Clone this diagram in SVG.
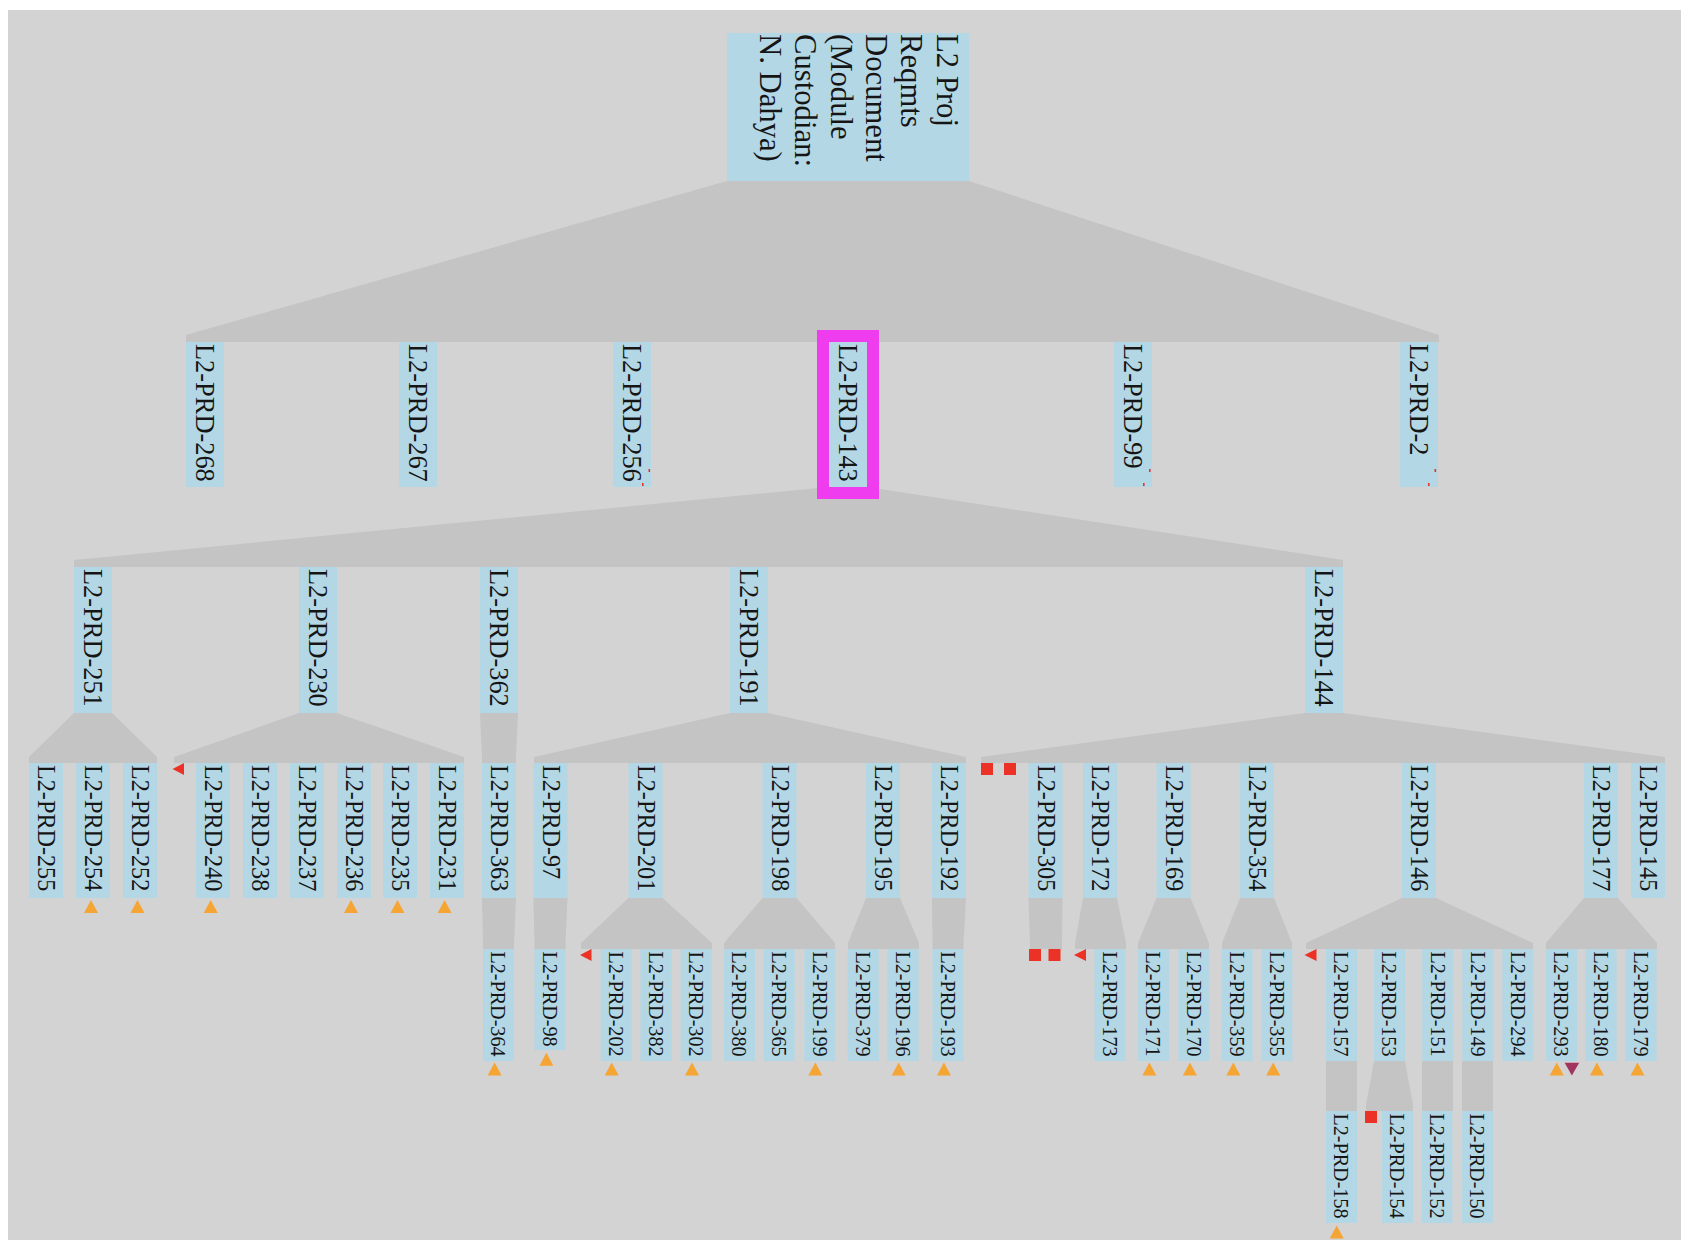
<svg xmlns="http://www.w3.org/2000/svg" width="1694" height="1248" viewBox="0 0 1694 1248">
<style>
.bg{fill:#d3d3d3}
.cn{fill:#c4c4c4}
.bx{fill:#b4d7e5}
.t{font-family:"Liberation Serif","Times New Roman",serif;fill:#151515}
.r{font-size:30.7px}
.l1{font-size:26.4px}
.l3{font-size:24.2px}
.l4{font-size:22px}
.or{fill:#f5a533}
.rd{fill:#ec3226}
.mr{fill:#a23560}
</style>
<rect x="0" y="0" width="1694" height="1248" fill="#ffffff"/>
<rect class="bg" x="8" y="10" width="1673" height="1230"/>
<g id="connectors">
<polygon class="cn" points="727,181 969,181 1439,335 1439,342 186,342 186,335"/>
<polygon class="cn" points="829,487 867,487 1343,560 1343,567 74,567 74,560"/>
<polygon class="cn" points="74,713 112,713 157,757 157,763 29,763 29,757"/>
<polygon class="cn" points="299,713 337,713 464,757 464,763 174,763 174,757"/>
<polygon class="cn" points="480,713 518,713 516,757 516,763 482,763 482,757"/>
<polygon class="cn" points="730,713 768,713 966,757 966,763 534,763 534,757"/>
<polygon class="cn" points="1305,713 1343,713 1665,757 1665,763 981,763 981,757"/>
<polygon class="cn" points="482,898 516,898 514,943 514,949 483,949 483,943"/>
<polygon class="cn" points="533.5,898 567.5,898 565.5,943 565.5,949 534.5,949 534.5,943"/>
<polygon class="cn" points="628.5,898 662.5,898 712,943 712,949 581,949 581,943"/>
<polygon class="cn" points="762.5,898 796.5,898 835,943 835,949 724,949 724,943"/>
<polygon class="cn" points="866,898 900,898 919,943 919,949 848,949 848,943"/>
<polygon class="cn" points="932,898 966,898 963.5,943 963.5,949 932.5,949 932.5,943"/>
<polygon class="cn" points="1028.5,898 1062.5,898 1062,943 1062,949 1030,949 1030,943"/>
<polygon class="cn" points="1083,898 1117,898 1126,943 1126,949 1075,949 1075,943"/>
<polygon class="cn" points="1156.5,898 1190.5,898 1209,943 1209,949 1138,949 1138,943"/>
<polygon class="cn" points="1240,898 1274,898 1292,943 1292,949 1222,949 1222,943"/>
<polygon class="cn" points="1402,898 1436,898 1533,943 1533,949 1306,949 1306,943"/>
<polygon class="cn" points="1584,898 1618,898 1657,943 1657,949 1546,949 1546,943"/>
<polygon class="cn" points="1326,1061 1357,1061 1357,1105 1357,1111 1326,1111 1326,1105"/>
<polygon class="cn" points="1374,1061 1405,1061 1413,1105 1413,1111 1366,1111 1366,1105"/>
<polygon class="cn" points="1422,1061 1453,1061 1453,1105 1453,1111 1422,1111 1422,1105"/>
<polygon class="cn" points="1462,1061 1493,1061 1493,1105 1493,1111 1462,1111 1462,1105"/>
</g>
<g id="root"><rect class="bx" x="727" y="33" width="242" height="148"/>
<text class="t r" transform="translate(936.5,34) rotate(90)">L2 Proj</text>
<text class="t r" transform="translate(901.2,34) rotate(90)">Reqmts</text>
<text class="t r" transform="translate(865.9,34) rotate(90)">Document</text>
<text class="t r" transform="translate(830.6,34) rotate(90)">(Module</text>
<text class="t r" transform="translate(795.3,34) rotate(90)">Custodian:</text>
<text class="t r" transform="translate(760,34) rotate(90)">N. Dahya)</text></g>
<g id="n268"><rect class="bx" x="186" y="342" width="38" height="145"/><text class="t l1" transform="translate(196.3,344) rotate(90)">L2-PRD-268</text></g>
<g id="n267"><rect class="bx" x="399" y="342" width="38" height="145"/><text class="t l1" transform="translate(409.3,344) rotate(90)">L2-PRD-267</text></g>
<g id="n256"><rect class="bx" x="613" y="342" width="38" height="145"/><text class="t l1" transform="translate(623.3,344) rotate(90)">L2-PRD-256</text><rect class="rd" x="648.5" y="469" width="1.6" height="3"/><rect class="rd" x="642" y="483" width="1.6" height="3"/></g>
<g id="n143"><rect x="817" y="330" width="62" height="169" fill="#ee3cee"/><rect class="bx" x="829" y="342" width="38" height="145"/><text class="t l1" transform="translate(839.3,344) rotate(90)">L2-PRD-143</text></g>
<g id="n99"><rect class="bx" x="1114" y="342" width="38" height="145"/><text class="t l1" transform="translate(1124.3,344) rotate(90)">L2-PRD-99</text><rect class="rd" x="1149" y="469" width="1.6" height="3"/><rect class="rd" x="1143" y="483" width="1.6" height="3"/></g>
<g id="n2"><rect class="bx" x="1400" y="342" width="38" height="145"/><text class="t l1" transform="translate(1410.3,344) rotate(90)">L2-PRD-2</text><rect class="rd" x="1434.5" y="469" width="1.6" height="3"/><rect class="rd" x="1428" y="483" width="1.6" height="3"/></g>
<g id="n251"><rect class="bx" x="74" y="567" width="38" height="146"/><text class="t l1" transform="translate(84.3,569) rotate(90)">L2-PRD-251</text></g>
<g id="n230"><rect class="bx" x="299" y="567" width="38" height="146"/><text class="t l1" transform="translate(309.3,569) rotate(90)">L2-PRD-230</text></g>
<g id="n362"><rect class="bx" x="480" y="567" width="38" height="146"/><text class="t l1" transform="translate(490.3,569) rotate(90)">L2-PRD-362</text></g>
<g id="n191"><rect class="bx" x="730" y="567" width="38" height="146"/><text class="t l1" transform="translate(740.3,569) rotate(90)">L2-PRD-191</text></g>
<g id="n144"><rect class="bx" x="1305" y="567" width="38" height="146"/><text class="t l1" transform="translate(1315.3,569) rotate(90)">L2-PRD-144</text></g>
<g id="n255"><rect class="bx" x="29" y="763" width="34" height="135"/><text class="t l3" transform="translate(38,765) rotate(90)">L2-PRD-255</text></g>
<g id="n254"><rect class="bx" x="76" y="763" width="34" height="135"/><text class="t l3" transform="translate(85,765) rotate(90)">L2-PRD-254</text></g>
<g id="n252"><rect class="bx" x="123" y="763" width="34" height="135"/><text class="t l3" transform="translate(132,765) rotate(90)">L2-PRD-252</text></g>
<g id="n240"><rect class="bx" x="196" y="763" width="34" height="135"/><text class="t l3" transform="translate(205,765) rotate(90)">L2-PRD-240</text></g>
<g id="n238"><rect class="bx" x="243" y="763" width="34" height="135"/><text class="t l3" transform="translate(252,765) rotate(90)">L2-PRD-238</text></g>
<g id="n237"><rect class="bx" x="290" y="763" width="34" height="135"/><text class="t l3" transform="translate(299,765) rotate(90)">L2-PRD-237</text></g>
<g id="n236"><rect class="bx" x="337" y="763" width="34" height="135"/><text class="t l3" transform="translate(346,765) rotate(90)">L2-PRD-236</text></g>
<g id="n235"><rect class="bx" x="383" y="763" width="34" height="135"/><text class="t l3" transform="translate(392,765) rotate(90)">L2-PRD-235</text></g>
<g id="n231"><rect class="bx" x="430" y="763" width="34" height="135"/><text class="t l3" transform="translate(439,765) rotate(90)">L2-PRD-231</text></g>
<g id="n363"><rect class="bx" x="482" y="763" width="34" height="135"/><text class="t l3" transform="translate(491,765) rotate(90)">L2-PRD-363</text></g>
<g id="n97"><rect class="bx" x="533.5" y="763" width="34" height="135"/><text class="t l3" transform="translate(542.5,765) rotate(90)">L2-PRD-97</text></g>
<g id="n201"><rect class="bx" x="628.5" y="763" width="34" height="135"/><text class="t l3" transform="translate(637.5,765) rotate(90)">L2-PRD-201</text></g>
<g id="n198"><rect class="bx" x="762.5" y="763" width="34" height="135"/><text class="t l3" transform="translate(771.5,765) rotate(90)">L2-PRD-198</text></g>
<g id="n195"><rect class="bx" x="866" y="763" width="34" height="135"/><text class="t l3" transform="translate(875,765) rotate(90)">L2-PRD-195</text></g>
<g id="n192"><rect class="bx" x="932" y="763" width="34" height="135"/><text class="t l3" transform="translate(941,765) rotate(90)">L2-PRD-192</text></g>
<g id="n305"><rect class="bx" x="1028.5" y="763" width="34" height="135"/><text class="t l3" transform="translate(1037.5,765) rotate(90)">L2-PRD-305</text></g>
<g id="n172"><rect class="bx" x="1083" y="763" width="34" height="135"/><text class="t l3" transform="translate(1092,765) rotate(90)">L2-PRD-172</text></g>
<g id="n169"><rect class="bx" x="1156.5" y="763" width="34" height="135"/><text class="t l3" transform="translate(1165.5,765) rotate(90)">L2-PRD-169</text></g>
<g id="n354"><rect class="bx" x="1240" y="763" width="34" height="135"/><text class="t l3" transform="translate(1249,765) rotate(90)">L2-PRD-354</text></g>
<g id="n146"><rect class="bx" x="1402" y="763" width="34" height="135"/><text class="t l3" transform="translate(1411,765) rotate(90)">L2-PRD-146</text></g>
<g id="n177"><rect class="bx" x="1584" y="763" width="34" height="135"/><text class="t l3" transform="translate(1593,765) rotate(90)">L2-PRD-177</text></g>
<g id="n145"><rect class="bx" x="1631" y="763" width="34" height="135"/><text class="t l3" transform="translate(1640,765) rotate(90)">L2-PRD-145</text></g>
<g id="n364"><rect class="bx" x="483" y="949" width="31" height="112"/><text class="t l4" textLength="105" lengthAdjust="spacingAndGlyphs" transform="translate(491.3,951.5) rotate(90)">L2-PRD-364</text></g>
<g id="n98"><rect class="bx" x="534.5" y="949" width="31" height="101"/><text class="t l4" textLength="95" lengthAdjust="spacingAndGlyphs" transform="translate(542.8,951.5) rotate(90)">L2-PRD-98</text></g>
<g id="n202"><rect class="bx" x="600.8" y="949" width="31" height="112"/><text class="t l4" textLength="105" lengthAdjust="spacingAndGlyphs" transform="translate(609.1,951.5) rotate(90)">L2-PRD-202</text></g>
<g id="n382"><rect class="bx" x="640.5" y="949" width="31" height="112"/><text class="t l4" textLength="105" lengthAdjust="spacingAndGlyphs" transform="translate(648.8,951.5) rotate(90)">L2-PRD-382</text></g>
<g id="n302"><rect class="bx" x="680.8" y="949" width="31" height="112"/><text class="t l4" textLength="105" lengthAdjust="spacingAndGlyphs" transform="translate(689.1,951.5) rotate(90)">L2-PRD-302</text></g>
<g id="n380"><rect class="bx" x="724" y="949" width="31" height="112"/><text class="t l4" textLength="105" lengthAdjust="spacingAndGlyphs" transform="translate(732.3,951.5) rotate(90)">L2-PRD-380</text></g>
<g id="n365"><rect class="bx" x="763.8" y="949" width="31" height="112"/><text class="t l4" textLength="105" lengthAdjust="spacingAndGlyphs" transform="translate(772.1,951.5) rotate(90)">L2-PRD-365</text></g>
<g id="n199"><rect class="bx" x="804.3" y="949" width="31" height="112"/><text class="t l4" textLength="105" lengthAdjust="spacingAndGlyphs" transform="translate(812.6,951.5) rotate(90)">L2-PRD-199</text></g>
<g id="n379"><rect class="bx" x="847.8" y="949" width="31" height="112"/><text class="t l4" textLength="105" lengthAdjust="spacingAndGlyphs" transform="translate(856.1,951.5) rotate(90)">L2-PRD-379</text></g>
<g id="n196"><rect class="bx" x="887.5" y="949" width="31" height="112"/><text class="t l4" textLength="105" lengthAdjust="spacingAndGlyphs" transform="translate(895.8,951.5) rotate(90)">L2-PRD-196</text></g>
<g id="n193"><rect class="bx" x="932.5" y="949" width="31" height="112"/><text class="t l4" textLength="105" lengthAdjust="spacingAndGlyphs" transform="translate(940.8,951.5) rotate(90)">L2-PRD-193</text></g>
<g id="n173"><rect class="bx" x="1094.5" y="949" width="31" height="112"/><text class="t l4" textLength="105" lengthAdjust="spacingAndGlyphs" transform="translate(1102.8,951.5) rotate(90)">L2-PRD-173</text></g>
<g id="n171"><rect class="bx" x="1138" y="949" width="31" height="112"/><text class="t l4" textLength="105" lengthAdjust="spacingAndGlyphs" transform="translate(1146.3,951.5) rotate(90)">L2-PRD-171</text></g>
<g id="n170"><rect class="bx" x="1178.3" y="949" width="31" height="112"/><text class="t l4" textLength="105" lengthAdjust="spacingAndGlyphs" transform="translate(1186.6,951.5) rotate(90)">L2-PRD-170</text></g>
<g id="n359"><rect class="bx" x="1221.8" y="949" width="31" height="112"/><text class="t l4" textLength="105" lengthAdjust="spacingAndGlyphs" transform="translate(1230.1,951.5) rotate(90)">L2-PRD-359</text></g>
<g id="n355"><rect class="bx" x="1261.5" y="949" width="31" height="112"/><text class="t l4" textLength="105" lengthAdjust="spacingAndGlyphs" transform="translate(1269.8,951.5) rotate(90)">L2-PRD-355</text></g>
<g id="n157"><rect class="bx" x="1326" y="949" width="31" height="112"/><text class="t l4" textLength="105" lengthAdjust="spacingAndGlyphs" transform="translate(1334.3,951.5) rotate(90)">L2-PRD-157</text></g>
<g id="n153"><rect class="bx" x="1374" y="949" width="31" height="112"/><text class="t l4" textLength="105" lengthAdjust="spacingAndGlyphs" transform="translate(1382.3,951.5) rotate(90)">L2-PRD-153</text></g>
<g id="n151"><rect class="bx" x="1422.2" y="949" width="31" height="112"/><text class="t l4" textLength="105" lengthAdjust="spacingAndGlyphs" transform="translate(1430.5,951.5) rotate(90)">L2-PRD-151</text></g>
<g id="n149"><rect class="bx" x="1462.4" y="949" width="31" height="112"/><text class="t l4" textLength="105" lengthAdjust="spacingAndGlyphs" transform="translate(1470.7,951.5) rotate(90)">L2-PRD-149</text></g>
<g id="n294"><rect class="bx" x="1502.3" y="949" width="31" height="112"/><text class="t l4" textLength="105" lengthAdjust="spacingAndGlyphs" transform="translate(1510.6,951.5) rotate(90)">L2-PRD-294</text></g>
<g id="n293"><rect class="bx" x="1546" y="949" width="31" height="112"/><text class="t l4" textLength="105" lengthAdjust="spacingAndGlyphs" transform="translate(1554.3,951.5) rotate(90)">L2-PRD-293</text></g>
<g id="n180"><rect class="bx" x="1585.6" y="949" width="31" height="112"/><text class="t l4" textLength="105" lengthAdjust="spacingAndGlyphs" transform="translate(1593.9,951.5) rotate(90)">L2-PRD-180</text></g>
<g id="n179"><rect class="bx" x="1625.5" y="949" width="31" height="112"/><text class="t l4" textLength="105" lengthAdjust="spacingAndGlyphs" transform="translate(1633.8,951.5) rotate(90)">L2-PRD-179</text></g>
<g id="n158"><rect class="bx" x="1326" y="1111" width="31" height="112"/><text class="t l4" textLength="105" lengthAdjust="spacingAndGlyphs" transform="translate(1334.3,1113.5) rotate(90)">L2-PRD-158</text></g>
<g id="n154"><rect class="bx" x="1382" y="1111" width="31" height="112"/><text class="t l4" textLength="105" lengthAdjust="spacingAndGlyphs" transform="translate(1390.3,1113.5) rotate(90)">L2-PRD-154</text></g>
<g id="n152"><rect class="bx" x="1421.5" y="1111" width="31" height="112"/><text class="t l4" textLength="105" lengthAdjust="spacingAndGlyphs" transform="translate(1429.8,1113.5) rotate(90)">L2-PRD-152</text></g>
<g id="n150"><rect class="bx" x="1462" y="1111" width="31" height="112"/><text class="t l4" textLength="105" lengthAdjust="spacingAndGlyphs" transform="translate(1470.3,1113.5) rotate(90)">L2-PRD-150</text></g>
<g id="markers">
<polygon class="or" points="91,900 84,913 98,913"/>
<polygon class="or" points="137.5,900 130.5,913 144.5,913"/>
<polygon class="or" points="210.7,900 203.7,913 217.7,913"/>
<polygon class="or" points="351,900 344,913 358,913"/>
<polygon class="or" points="397.5,900 390.5,913 404.5,913"/>
<polygon class="or" points="444.6,900 437.6,913 451.6,913"/>
<polygon class="or" points="494.6,1062.5 487.6,1075.5 501.6,1075.5"/>
<polygon class="or" points="546.4,1052.7 539.4,1065.7 553.4,1065.7"/>
<polygon class="or" points="611.7,1062.5 604.7,1075.5 618.7,1075.5"/>
<polygon class="or" points="692,1062.5 685,1075.5 699,1075.5"/>
<polygon class="or" points="815.3,1062.5 808.3,1075.5 822.3,1075.5"/>
<polygon class="or" points="898.7,1062.5 891.7,1075.5 905.7,1075.5"/>
<polygon class="or" points="943.9,1062.5 936.9,1075.5 950.9,1075.5"/>
<polygon class="or" points="1149.4,1062.5 1142.4,1075.5 1156.4,1075.5"/>
<polygon class="or" points="1189.9,1062.5 1182.9,1075.5 1196.9,1075.5"/>
<polygon class="or" points="1233.3,1062.5 1226.3,1075.5 1240.3,1075.5"/>
<polygon class="or" points="1273.2,1062.5 1266.2,1075.5 1280.2,1075.5"/>
<polygon class="or" points="1556.7,1062.5 1549.7,1075.5 1563.7,1075.5"/>
<polygon class="or" points="1596.9,1062.5 1589.9,1075.5 1603.9,1075.5"/>
<polygon class="or" points="1637.5,1062.5 1630.5,1075.5 1644.5,1075.5"/>
<polygon class="or" points="1336.7,1225.5 1329.7,1238.5 1343.7,1238.5"/>
<polygon class="mr" points="1564.6,1062.7 1579.2,1062.7 1571.9,1075.5"/>
<polygon class="rd" points="172.5,769 184,763 184,775"/>
<polygon class="rd" points="580,955 591.5,949 591.5,961"/>
<polygon class="rd" points="1074,955 1086,949 1086,961"/>
<polygon class="rd" points="1304.5,955 1316.5,949 1316.5,961"/>
<rect class="rd" x="981" y="763" width="12" height="12"/>
<rect class="rd" x="1004" y="763" width="12" height="12"/>
<rect class="rd" x="1029" y="949" width="12" height="12"/>
<rect class="rd" x="1048.5" y="949" width="12" height="12"/>
<rect class="rd" x="1365" y="1111" width="12" height="12"/>
</g>
</svg>
